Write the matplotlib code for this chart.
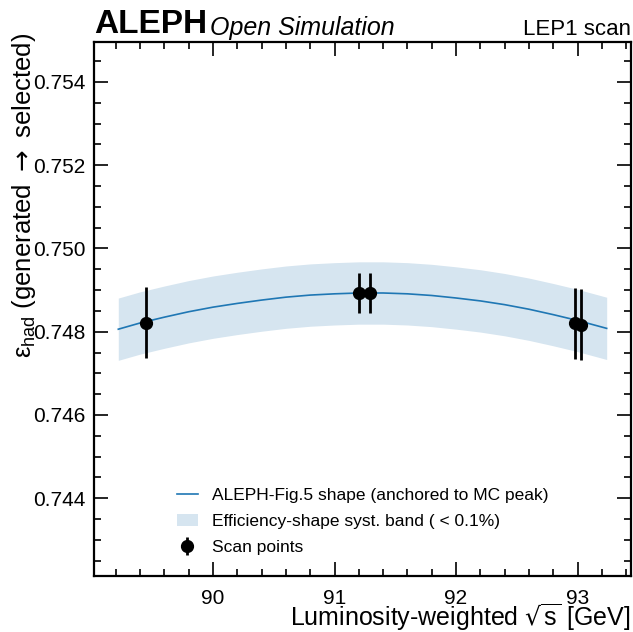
import numpy as np
import matplotlib
matplotlib.use("Agg")
import matplotlib.pyplot as plt
from matplotlib.ticker import MultipleLocator, FormatStrFormatter

# scan points (lumi-weighted sqrt(s), efficiency, error)
scan_x = [89.45, 91.20, 91.29, 92.98, 93.03]
scan_eff = [0.74822, 0.74894, 0.74894, 0.74820, 0.74817]
scan_err = [0.00085, 0.00048, 0.00048, 0.00085, 0.00085]

# ALEPH Fig.5 shape
shape_x = [89.22, 89.4, 89.6, 89.8, 90.0, 90.2, 90.4, 90.6, 90.8, 91.0, 91.2, 91.4,
           91.6, 91.8, 92.0, 92.2, 92.4, 92.6, 92.8, 93.0, 93.24]
shape_eff = [0.74806, 0.74821, 0.74835, 0.74848, 0.74859, 0.74868, 0.74876, 0.74883,
             0.74888, 0.74891, 0.74893, 0.74893, 0.74891, 0.74887, 0.74881, 0.74874,
             0.74865, 0.74854, 0.74841, 0.74827, 0.74808]
syst_rel = 0.001  # < 0.1% band

plt.rcParams['font.family'] = ['Liberation Sans', 'DejaVu Sans']
plt.rcParams['mathtext.fontset'] = 'dejavusans'

fig = plt.figure(figsize=(6.33, 6.32), dpi=100)
ax = fig.add_axes([0.1485, 0.0886, 0.8483, 0.8449])

sx = np.array(shape_x)
se = np.array(shape_eff)
ax.fill_between(sx, se * (1 - syst_rel), se * (1 + syst_rel), color='#d6e5f0', lw=0,
                label='Efficiency-shape syst. band ( < 0.1%)')
ax.plot(sx, se, color='#1f77b4', lw=1.2, label='ALEPH-Fig.5 shape (anchored to MC peak)')
ax.errorbar(scan_x, scan_eff, yerr=scan_err, fmt='o', color='black', ms=8.5,
            elinewidth=2, capsize=0, label='Scan points', zorder=5)

ax.set_xlim(89.02, 93.44)
ax.set_ylim(0.74213, 0.75496)
ax.xaxis.set_major_locator(MultipleLocator(1))
ax.xaxis.set_minor_locator(MultipleLocator(0.2))
ax.yaxis.set_major_locator(MultipleLocator(0.002))
ax.yaxis.set_minor_locator(MultipleLocator(0.0005))
ax.yaxis.set_major_formatter(FormatStrFormatter('%.3f'))
ax.tick_params(which='both', direction='in', top=True, right=True, labelsize=15, width=1.2)
ax.tick_params(which='major', length=10)
ax.tick_params(which='minor', length=5)
ax.tick_params(axis='x', which='major', pad=9)
ax.tick_params(axis='y', which='major', pad=6)
for s in ax.spines.values():
    s.set_linewidth(1.6)

ax.set_xlabel(r'Luminosity-weighted $\sqrt{\mathregular{s}}$ [GeV]', fontsize=18, ha='right', va='top')
ax.xaxis.set_label_coords(1.0, -0.048)
ax.set_ylabel(r'ε$_{\mathregular{had}}$ (generated $\rightarrow$ selected)', fontsize=18.5,
              ha='right', va='bottom')
ax.yaxis.set_label_coords(-0.104, 1.017)

h, l = ax.get_legend_handles_labels()
ax.legend([h[1], h[0], h[2]], [l[1], l[0], l[2]], loc='lower center', frameon=False,
          fontsize=12.5, bbox_to_anchor=(0.5, 0.01), labelspacing=0.62,
          handlelength=1.2, handletextpad=0.8)

fig.text(0.1485, 0.937, 'ALEPH', fontsize=24, fontweight='bold', va='bottom')
fig.text(0.331, 0.937, 'Open Simulation', fontsize=18, style='italic', va='bottom')
fig.text(0.997, 0.937, 'LEP1 scan', fontsize=16, ha='right', va='bottom')

fig.savefig('out.png', dpi=100)
